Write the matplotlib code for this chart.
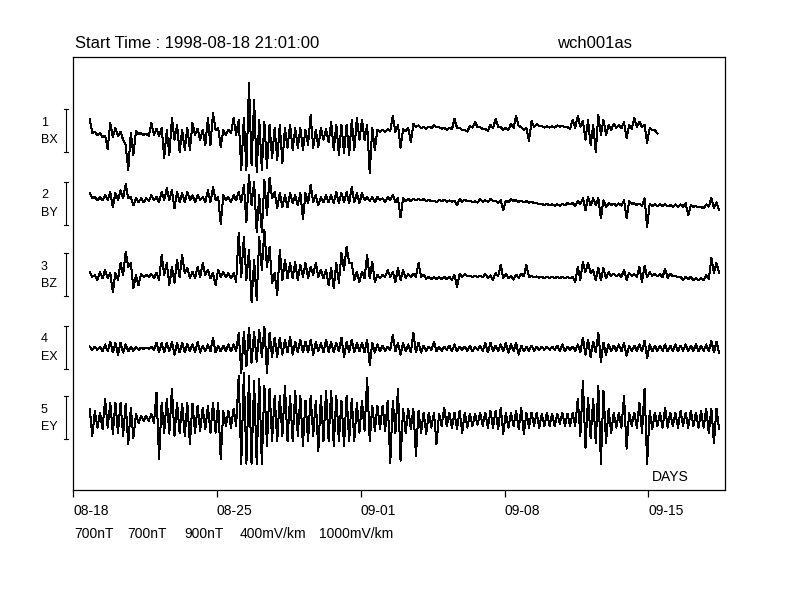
import numpy as np
import matplotlib
matplotlib.use("Agg")
import matplotlib.pyplot as plt
import matplotlib.transforms as mtransforms

plt.rcParams['font.family'] = ['Liberation Sans', 'DejaVu Sans']

# station / record
station = "wch001as"
start_label = "Start Time : 1998-08-18 21:01:00"

# samples: max / min of each 6 h block, time in days since 1998-08-18 00:00
t_start = 0.876
t_step = 0.25

channels = ["BX", "BY", "BZ", "EX", "EY"]
scales = [700, 700, 900, 400, 1000]
scale_labels = ["700nT", "700nT", "900nT", "400mV/km", "1000mV/km"]

tick_days = [0, 7, 14, 21, 28]
tick_labels = ["08-18", "08-25", "09-01", "09-08", "09-15"]

# BX (nT)
bx_hi = [195, -15, -35, -80, 130, 50, -15, -230, -35, 0,
         -35, -50, 130, 35, 50, 15, 210, 100, 15, 50,
         130, 35, 15, 210, 295, 50, 15, 15, 210, 180,
         210, 780, 505, 180, 145, 100, 50, 100, 50, 100,
         50, 50, 15, 260, 15, 50, 35, 145, 100, 100,
         100, 180, 210, 180, 100, 50, 20, 20, 30, 245,
         100, 30, 50, 115, 90, 65, 70, 90, 65, 50,
         55, 195, 50, 20, 80, 145, 65, 30, 100, 195,
         60, 50, 120, 245, 65, 50, 165, 110, 75, 75,
         75, 90, 85, 60, 180, 245, 165, 180, 100, 260,
         180, 100, 120, 100, 145, 90, 210, 150, 100, 50,
         10]
bx_lo = [-35, -65, -100, -295, -100, -80, -145, -635, -390, -50,
         -65, -80, -65, -80, -440, -390, -145, -340, -310, -310,
         -65, -145, -230, -230, 15, -260, -65, -35, -65, -635,
         -635, -555, -670, -635, -605, -440, -475, -520, -275, -310,
         -275, -310, -230, -275, -260, -145, -180, -310, -390, -360,
         -390, -310, -145, -145, -685, -310, -20, -15, -5, -15,
         -275, 0, -180, 65, 50, 35, 45, 65, 35, 20,
         25, 50, 10, -10, 55, 60, 30, 0, 40, 70,
         20, 20, 50, 80, 20, -165, 60, 80, 55, 55,
         55, 70, 60, 35, 50, 70, -145, -230, -340, -65,
         -65, 20, 50, 40, -115, 30, 65, 60, -195, 10,
         -40]

# BY (nT)
by_hi = [165, 100, 100, 130, 180, 165, 210, 310, 100, 80,
         80, 80, 130, 100, 180, 245, 210, 180, 165, 180,
         130, 130, 100, 210, 260, 100, 130, 100, 130, 180,
         295, 455, 340, 130, 375, 410, 180, 165, 130, 165,
         130, 165, 165, 295, 130, 100, 130, 130, 180, 165,
         180, 260, 165, 165, 100, 100, 100, 80, 100, 130,
         80, 80, 70, 70, 70, 65, 55, 40, 55, 55,
         45, 40, 65, 55, 40, 30, 70, 50, 65, 40,
         50, 40, 70, 50, 40, 35, 25, 5, -10, -10,
         -20, -20, -10, 5, 0, 35, 80, 100, 80, 80,
         50, 0, -5, -5, 50, 30, 0, -5, 80, -5,
         -15, -10, -20, -30, -20, -20, 0, -30, -45, -60,
         -20, 80, 15]
by_lo = [80, 50, 50, 50, -65, 50, 80, 80, -35, 15,
         15, 35, 50, 15, 50, 50, -80, 15, 15, 50,
         15, 50, 15, 15, 50, -340, 50, 15, 50, 15,
         -310, -35, -475, -475, -195, 80, -80, -65, -65, 0,
         -35, -260, 0, 15, -35, 15, 15, 0, 0, 15,
         0, 15, 0, 50, 35, 15, 50, 15, 50, 15,
         -230, 30, 35, 45, 45, 35, 30, 15, 30, 25,
         20, -35, 25, 30, 15, 10, 25, 20, 35, 5,
         -115, 15, 35, 20, 15, 5, 0, -20, -35, -35,
         -40, -40, -35, -20, -45, -10, -115, -35, -35, -245,
         -65, -30, -40, -40, -245, -10, -30, -50, -390, -45,
         -50, -45, -55, -60, -55, -55, -195, -60, -70, -85,
         -55, -80, -115]

# BZ (nT)
bz_hi = [65, 0, 65, 105, 40, 40, 250, 480, 250, 0,
         20, 0, 20, 40, 420, 250, 165, 315, 420, 145,
         65, 165, 250, 105, 40, 105, 65, 40, 40, 880,
         795, 520, 315, 795, 940, 585, 40, 520, 315, 250,
         270, 210, 250, 165, 250, 105, 105, 145, 250, 460,
         585, 250, 65, 65, 420, 270, 0, 0, 105, 65,
         145, 105, 20, 20, 250, 10, -40, -40, -40, -40,
         -40, 0, 20, 20, -15, -15, -15, 20, -10, 40,
         210, 30, -20, 10, 30, 210, -20, -30, -40, -40,
         -40, -40, -40, -40, -40, 165, 270, 250, 105, 145,
         145, 60, 30, 15, 105, 40, 15, 165, 190, 60,
         30, 15, 125, 30, -20, -40, -40, -40, -65, -65,
         0, 355, 250]
bz_lo = [-40, -105, -65, -65, -355, -105, 0, 165, -270, -210,
         -40, -40, -65, -105, 0, -210, -165, -40, 40, -65,
         -65, -40, 0, -65, -210, -40, -40, -65, -145, -40,
         -105, -565, -520, 105, 165, -165, -420, -105, -65, -65,
         -105, -40, -65, 0, -40, -65, -210, -270, -165, 105,
         250, -105, -145, -65, -65, -145, -65, -40, -40, -145,
         -105, -65, -40, -40, -40, -80, -85, -85, -85, -85,
         -105, -250, -40, -20, -45, -45, -45, -60, -100, -30,
         -65, -60, -100, -60, -30, -40, -50, -55, -65, -65,
         -65, -65, -65, -65, -145, -105, 65, 40, -105, -105,
         -65, -20, -30, -40, -105, -20, -40, -145, -40, -20,
         -30, -40, -65, -30, -50, -105, -85, -105, -105, -105,
         -85, 40, 40]

# EX (mV/km)
ex_hi = [10, 10, 10, 30, 55, 45, 45, 30, 10, 10,
         0, 0, 10, 45, 45, 45, 55, 45, 45, 35,
         30, 55, 20, 30, 95, 20, 20, 30, 30, 140,
         150, 185, 150, 165, 195, 140, 95, 95, 75, 100,
         55, 75, 55, 75, 55, 45, 75, 55, 45, 95,
         55, 75, 45, 45, 75, 45, 30, 20, 10, 120,
         45, 45, 30, 140, 45, 20, 10, 55, 10, 10,
         20, 30, 10, 10, 20, 10, 20, 45, 45, 20,
         30, 45, 30, 45, 20, 10, 20, 10, 10, 10,
         10, 20, 30, 10, 10, 30, 95, 75, 55, 140,
         45, 30, 20, 30, 45, 20, 20, 30, 65, 30,
         20, 20, 30, 20, 30, 20, 30, 20, 30, 20,
         30, 65, 55]
ex_lo = [-20, -20, -35, -35, -45, -65, -45, -35, -30, -20,
         -10, -10, -20, -45, -45, -35, -65, -45, -45, -35,
         -45, -45, -35, -35, -45, -35, -30, -35, -35, -235,
         -175, -140, -130, -85, -235, -85, -85, -65, -45, -65,
         -45, -45, -45, -65, -35, -45, -45, -45, -35, -85,
         -45, -45, -35, -45, -160, -45, -35, -30, -20, -35,
         -65, -35, -45, -45, -45, -30, -20, -35, -30, -20,
         -35, -35, -20, -30, -35, -20, -30, -45, -35, -30,
         -35, -45, -30, -65, -35, -30, -30, -20, -20, -20,
         -20, -30, -35, -20, -30, -45, -65, -85, -45, -130,
         -65, -35, -30, -35, -75, -30, -30, -35, -95, -35,
         -30, -30, -35, -30, -35, -30, -35, -30, -35, -30,
         -35, -45, -45]

# EY (mV/km)
ey_hi = [210, 160, 120, 440, 350, 350, 350, 330, 230, 90,
         50, 50, 90, 580, 350, 440, 680, 350, 330, 350,
         330, 280, 230, 280, 350, 350, 160, 160, 210, 980,
         1050, 980, 860, 910, 750, 680, 510, 510, 750, 510,
         630, 510, 400, 510, 400, 510, 630, 630, 510, 400,
         510, 440, 350, 400, 930, 280, 280, 280, 400, 400,
         680, 210, 210, 210, 160, 120, 120, 120, 90, 230,
         120, 120, 160, 120, 90, 90, 120, 120, 160, 160,
         230, 120, 120, 160, 230, 120, 120, 120, 90, 120,
         90, 90, 120, 90, 120, 440, 860, 470, 440, 750,
         630, 210, 120, 120, 510, 120, 120, 350, 680, 160,
         120, 120, 230, 120, 120, 160, 120, 160, 120, 160,
         210, 210, 210]
ey_lo = [-420, -230, -260, -230, -370, -350, -420, -610, -470, -120,
         -70, -70, -120, -960, -350, -370, -420, -350, -420, -610,
         -350, -300, -260, -350, -350, -960, -190, -230, -190, -1070,
         -1070, -1070, -1070, -1070, -650, -540, -540, -420, -540, -540,
         -420, -650, -540, -420, -770, -540, -540, -650, -540, -650,
         -540, -540, -350, -300, -540, -300, -260, -300, -1050, -350,
         -1000, -350, -260, -890, -350, -370, -230, -610, -190, -190,
         -230, -260, -350, -230, -190, -160, -190, -230, -230, -260,
         -370, -230, -190, -260, -370, -230, -190, -230, -190, -190,
         -190, -140, -190, -190, -190, -420, -700, -470, -580, -1070,
         -580, -350, -230, -230, -720, -190, -230, -350, -1070, -260,
         -190, -230, -230, -190, -230, -190, -230, -190, -230, -230,
         -350, -580, -260]

highs = [bx_hi, by_hi, bz_hi, ex_hi, ey_hi]
lows = [bx_lo, by_lo, bz_lo, ex_lo, ey_lo]

# layout: one scale bar = 43 px, traces stacked from the top
W, H = 792, 612
px_day = 20.55
bar_px = 43
offsets = [8.35, 6.67, 5.0, 3.31, 1.68]

fig = plt.figure(figsize=(W / 100, H / 100), dpi=100)
ax = fig.add_axes([73 / W, (H - 490) / H, 652 / W, 433 / H])
ax.set_xlim(0, 652 / px_day)
ax.set_ylim(0, 433 / bar_px)

for hi, lo, sc, off in zip(highs, lows, scales, offsets):
    hi = np.array(hi, float) / sc + off
    lo = np.array(lo, float) / sc + off
    t = t_start + t_step * np.arange(len(hi))
    # max in the first half of each block, min in the second half
    tt = np.column_stack((t - t_step / 4, t + t_step / 4)).ravel()
    ax.plot(tt, np.column_stack((hi, lo)).ravel(), color="black", lw=0.72,
            antialiased=False)

for sp in ax.spines.values():
    sp.set_linewidth(0.9)
    sp.set_color("black")

ax.set_yticks([])
ax.set_xticks(tick_days)
ax.set_xticklabels(tick_labels)
ax.tick_params(axis="x", direction="out", length=5, width=0.9, labelsize=10, pad=5)
for lab in ax.get_xticklabels():
    lab.set_horizontalalignment("left")

# channel labels and scale bars left of the frame
trans = mtransforms.blended_transform_factory(ax.transAxes, ax.transData)
xb = -7 / 652
cap = 2 / 652
for i, (name, off) in enumerate(zip(channels, offsets)):
    ax.plot([xb, xb], [off - 0.5, off + 0.5], transform=trans, clip_on=False,
            color="black", lw=0.8)
    for e in (off - 0.5, off + 0.5):
        ax.plot([xb - cap, xb + cap], [e, e], transform=trans, clip_on=False,
                color="black", lw=0.8)
    ax.text(-32 / 652, off + 0.19, str(i + 1), transform=trans, fontsize=9,
            ha="left", va="center")
    ax.text(-32 / 652, off - 0.22, name, transform=trans, fontsize=9,
            ha="left", va="center")

fig.text(75 / W, 1 - 44 / H, start_label, fontsize=12, ha="left", va="center")
fig.text(557 / W, 1 - 44 / H, station, fontsize=12, ha="left", va="center")
fig.text(652 / W, 1 - 477 / H, "DAYS", fontsize=10, ha="left", va="center")

for x, s in zip([74, 127, 184, 240, 319], scale_labels):
    fig.text(x / W, 1 - 534 / H, s, fontsize=10, ha="left", va="center")

fig.savefig("out.png", dpi=100, facecolor="white")
